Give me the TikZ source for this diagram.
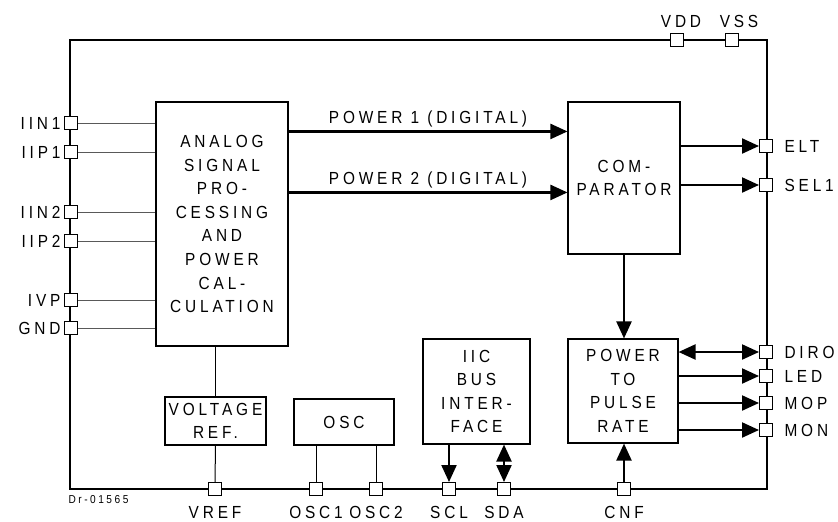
\documentclass[tikz,border=0pt]{standalone}
\usepackage{fontspec}
\setmainfont{Liberation Sans}[LetterSpace=22, FakeStretch=0.88]
\usetikzlibrary{arrows.meta}

\begin{document}
\begin{tikzpicture}[x=1pt, y=-1pt,
    font=\fontsize{17.5}{23.6}\selectfont,
    frame/.style={line width=2.5pt},
    blk/.style={draw, line width=1.1pt, align=center, inner sep=2pt},
    pinbox/.style={draw, fill=white, line width=1pt, minimum size=13pt, inner sep=0pt},
    wire/.style={line width=1pt, black!65},
    thin/.style={line width=1pt},
    sig/.style={line width=2.2pt, -{Triangle[length=17pt,width=15pt]}},
    bisig/.style={line width=2.2pt, {Triangle[length=17pt,width=15pt]}-{Triangle[length=17pt,width=15pt]}}
  ]
  \useasboundingbox (0,0) rectangle (838,522);

  % chip outline
  \draw[frame] (70,40) rectangle (767,489);

  % blocks
  \node[blk, minimum width=132pt, minimum height=244pt] (analog) at (222,224)
    {ANALOG\\SIGNAL\\PRO-\\CESSING\\AND\\POWER\\CAL-\\CULATION};
  \node[blk, minimum width=112pt, minimum height=152pt] (comp) at (624,178) {COM-\\PARATOR};
  \node[blk, minimum width=110pt, minimum height=104pt] (pulse) at (623,391) {POWER\\TO\\PULSE\\RATE};
  \node[blk, minimum width=107pt, minimum height=105pt] (iic) at (476.5,391.5) {IIC\\BUS\\INTER-\\FACE};
  \node[blk, minimum width=101pt, minimum height=48pt] (ref) at (215.5,421) {VOLTAGE\\REF.};
  \node[blk, minimum width=100pt, minimum height=46pt] (osc) at (344,422) {OSC};

  % left pins
  \foreach \y/\name in {123/IIN1, 152/IIP1, 212/IIN2, 241/IIP2, 300/IVP, 328/GND} {
    \node[pinbox, label={[label distance=0pt]left:\name}] (\name) at (71,\y) {};
    \draw[wire] (\name.east) -- (\name.east -| analog.west);
  }

  % top pins
  \node[pinbox, label={[xshift=4pt, label distance=2pt]above:VDD}] (VDD) at (677,40) {};
  \node[pinbox, label={[xshift=7pt, label distance=2pt]above:VSS}] (VSS) at (732,40) {};

  % right pins
  \foreach \y/\name in {146/ELT, 185/SEL1, 352/DIRO, 376/LED, 403/MOP, 430/MON} {
    \node[pinbox, label={[label distance=8pt]right:\name}] (\name) at (766,\y) {};
  }

  % bottom pins
  \foreach \x/\name in {215/VREF, 316/OSC1, 376/OSC2, 449/SCL, 504/SDA, 624/CNF} {
    \node[pinbox, label={[label distance=7pt]below:\name}] (\name) at (\x,489) {};
  }

  \node[anchor=west, font=\fontsize{11.5}{12}\selectfont] (dr) at (65,500) {Dr-01565};

  % signals
  \draw[sig] ([yshift=-30pt]analog.north east) -- ([yshift=-30pt]comp.north west)
    node[midway, above] {POWER 1 (DIGITAL)};
  \draw[sig] ([yshift=-91pt]analog.north east) -- ([yshift=-91pt]comp.north west)
    node[midway, above] {POWER 2 (DIGITAL)};
  \draw[sig] (ELT.west -| comp.east) -- (ELT.west);
  \draw[sig] (SEL1.west -| comp.east) -- (SEL1.west);
  \draw[sig] (comp.south) -- (pulse.north -| comp.south);
  \draw[bisig] (DIRO.west -| pulse.east) -- (DIRO.west);
  \draw[sig] (LED.west -| pulse.east) -- (LED.west);
  \draw[sig] (MOP.west -| pulse.east) -- (MOP.west);
  \draw[sig] (MON.west -| pulse.east) -- (MON.west);
  \draw[sig] (CNF.north) -- (CNF.north |- pulse.south);
  \draw[sig] (SCL.north |- iic.south) -- (SCL.north);
  \draw[bisig] (SDA.north |- iic.south) -- (SDA.north);

  % thin links
  \draw[thin] (ref.north |- analog.south) -- (ref.north);
  \draw[thin] (ref.south) -- (VREF.north);
  \draw[thin] (OSC1.north |- osc.south) -- (OSC1.north);
  \draw[thin] (OSC2.north |- osc.south) -- (OSC2.north);

\end{tikzpicture}
\end{document}
